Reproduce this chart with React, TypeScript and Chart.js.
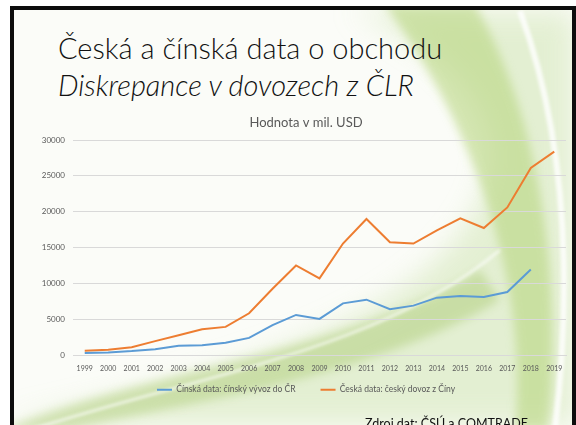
import React, { useEffect, useRef } from "react";
import { Chart, registerables } from "chart.js";

Chart.register(...registerables);

const years = [
  "1999", "2000", "2001", "2002", "2003", "2004", "2005", "2006", "2007", "2008",
  "2009", "2010", "2011", "2012", "2013", "2014", "2015", "2016", "2017", "2018", "2019",
];

// Čínská data: čínský vývoz do ČR (mil. USD)
const chinaExports = [
  280, 370, 555, 830, 1300, 1390, 1710, 2400, 4170, 5600,
  5050, 7220, 7730, 6390, 6900, 8010, 8240, 8100, 8800, 11950, null,
];

// Česká data: český dovoz z Číny (mil. USD)
const czechImports = [
  600, 740, 1110, 1945, 2780, 3610, 3935, 5830, 9260, 12500,
  10700, 15560, 18980, 15740, 15560, 17400, 19075, 17730, 20600, 26110, 28380,
];

const seriesLabels = [
  "Čínská data: čínský vývoz do ČR",
  "Česká data: český dovoz z Číny",
];

const chartTitle = "Hodnota v mil. USD";
const slideTitle1 = "Česká a čínská data o obchodu";
const slideTitle2 = "Diskrepance v dovozech z ČLR";
const sourceText = "Zdroj dat: ČSÚ a COMTRADE";

const FONT = "Lato, 'Open Sans', 'DejaVu Sans', sans-serif";

// Shifts the title and legend boxes so they are placed like in the original slide
const boxShift = {
  id: "boxShift",
  afterLayout(chart: any) {
    const dx = 16;
    const dy = 21;
    const lg = chart.legend;
    if (lg) {
      lg.left += dx;
      lg.right += dx;
      lg.top -= dy;
      lg.bottom -= dy;
    }
    const t = chart.titleBlock;
    if (t) {
      t.left += dx;
      t.right += dx;
    }
  },
};

function LineChart() {
  const ref = useRef<HTMLCanvasElement | null>(null);
  useEffect(() => {
    if (!ref.current) return;
    const chart = new Chart(ref.current, {
      type: "line",
      data: {
        labels: years,
        datasets: [
          {
            label: seriesLabels[0],
            data: chinaExports,
            borderColor: "#5B9BD5",
            backgroundColor: "#5B9BD5",
            borderWidth: 2,
            pointRadius: 0,
            tension: 0,
            fill: false,
          },
          {
            label: seriesLabels[1],
            data: czechImports,
            borderColor: "#ED7D31",
            backgroundColor: "#ED7D31",
            borderWidth: 2,
            pointRadius: 0,
            tension: 0,
            fill: false,
          },
        ],
      },
      options: {
        responsive: false,
        animation: false,
        layout: { padding: { left: 14, right: 10, top: 0, bottom: 0 } },
        scales: {
          x: {
            offset: true,
            grid: { display: false, drawTicks: false },
            border: { display: true, color: "#d9d9d9" },
            ticks: {
              autoSkip: false,
              maxRotation: 0,
              color: "#595959",
              font: { family: FONT, size: 7 },
              padding: 9,
            },
          },
          y: {
            min: 0,
            max: 30000,
            afterFit: (s: any) => {
              s.width = 59;
            },
            grid: { color: "#d9d9d9", drawTicks: false },
            border: { display: false },
            ticks: {
              stepSize: 5000,
              color: "#595959",
              font: { family: FONT, size: 8 },
              padding: 8,
              callback: (v: any) => String(v),
            },
          },
        },
        plugins: {
          title: {
            display: true,
            text: chartTitle,
            color: "#595959",
            font: { family: FONT, size: 13, weight: "normal" },
            padding: { top: 0, bottom: 9.4 },
          },
          legend: {
            position: "bottom",
            labels: {
              usePointStyle: true,
              pointStyle: "line",
              pointStyleWidth: 15,
              boxHeight: 8,
              color: "#595959",
              font: { family: FONT, size: 8.5 },
              padding: 25,
            },
          },
          tooltip: { enabled: false },
        },
      },
      plugins: [boxShift],
    });
    return () => chart.destroy();
  }, []);
  return <canvas ref={ref} width={576} height={310} />;
}

export default function App() {
  return (
    <div
      style={{
        position: "absolute",
        left: 0,
        top: 0,
        width: 576,
        height: 425,
        overflow: "hidden",
        background: "#ffffff",
        fontFamily: FONT,
      }}
    >
      {/* slide frame */}
      <div
        style={{
          position: "absolute",
          left: 10,
          top: 6,
          width: 558,
          height: 440,
          border: "4px solid #0d0d0d",
          background: "#fbfcf8",
        }}
      />
      <svg
        width={576}
        height={425}
        style={{ position: "absolute", left: 0, top: 0 }}
      >
        <defs>
          <clipPath id="slideClip">
            <rect x={14} y={10} width={558} height={420} />
          </clipPath>
          <filter id="b15" x="-20%" y="-20%" width="140%" height="140%">
            <feGaussianBlur stdDeviation="14" />
          </filter>
          <filter id="b5" x="-20%" y="-20%" width="140%" height="140%">
            <feGaussianBlur stdDeviation="5" />
          </filter>
          <filter id="b2" x="-20%" y="-20%" width="140%" height="140%">
            <feGaussianBlur stdDeviation="1.5" />
          </filter>
        </defs>
        <g clipPath="url(#slideClip)">
          <path
            d="M 350 11 L 575 11 L 575 425 L 0 425 C 200 380, 420 330, 480 200 C 520 110, 430 40, 350 11 Z"
            fill="#dcebc6"
            opacity={0.75}
            filter="url(#b15)"
          />
          <path
            d="M 385 5 L 475 5 C 530 100, 565 250, 548 430 L 515 430 C 530 280, 470 120, 385 5 Z"
            fill="#b5d47a"
            opacity={0.55}
            filter="url(#b5)"
          />
          <path
            d="M 0 430 C 150 370, 350 350, 480 270 L 500 300 C 370 380, 170 405, 70 430 Z"
            fill="#a9c96f"
            opacity={0.45}
            filter="url(#b5)"
          />
          <path
            d="M 520 11 C 560 120, 575 260, 555 430"
            stroke="#ffffff"
            strokeWidth={6}
            fill="none"
            opacity={0.8}
            filter="url(#b2)"
          />
          <path
            d="M 30 430 C 200 375, 380 350, 500 250"
            stroke="#ffffff"
            strokeWidth={3}
            fill="none"
            opacity={0.6}
            filter="url(#b2)"
          />
        </g>
      </svg>
      <div
        style={{
          position: "absolute",
          left: 58,
          top: 29,
          fontFamily: FONT,
          fontWeight: 300,
          fontSize: 29,
          lineHeight: "37px",
          color: "#111",
          whiteSpace: "nowrap",
        }}
      >
        <div>{slideTitle1}</div>
        <div style={{ fontStyle: "italic" }}>{slideTitle2}</div>
      </div>
      <div style={{ position: "absolute", left: 0, top: 115 }}>
        <LineChart />
      </div>
      <div
        style={{
          position: "absolute",
          left: 365,
          top: 416,
          fontFamily: FONT,
          fontSize: 12.5,
          lineHeight: "15px",
          color: "#111",
          whiteSpace: "nowrap",
        }}
      >
        {sourceText}
      </div>
    </div>
  );
}
